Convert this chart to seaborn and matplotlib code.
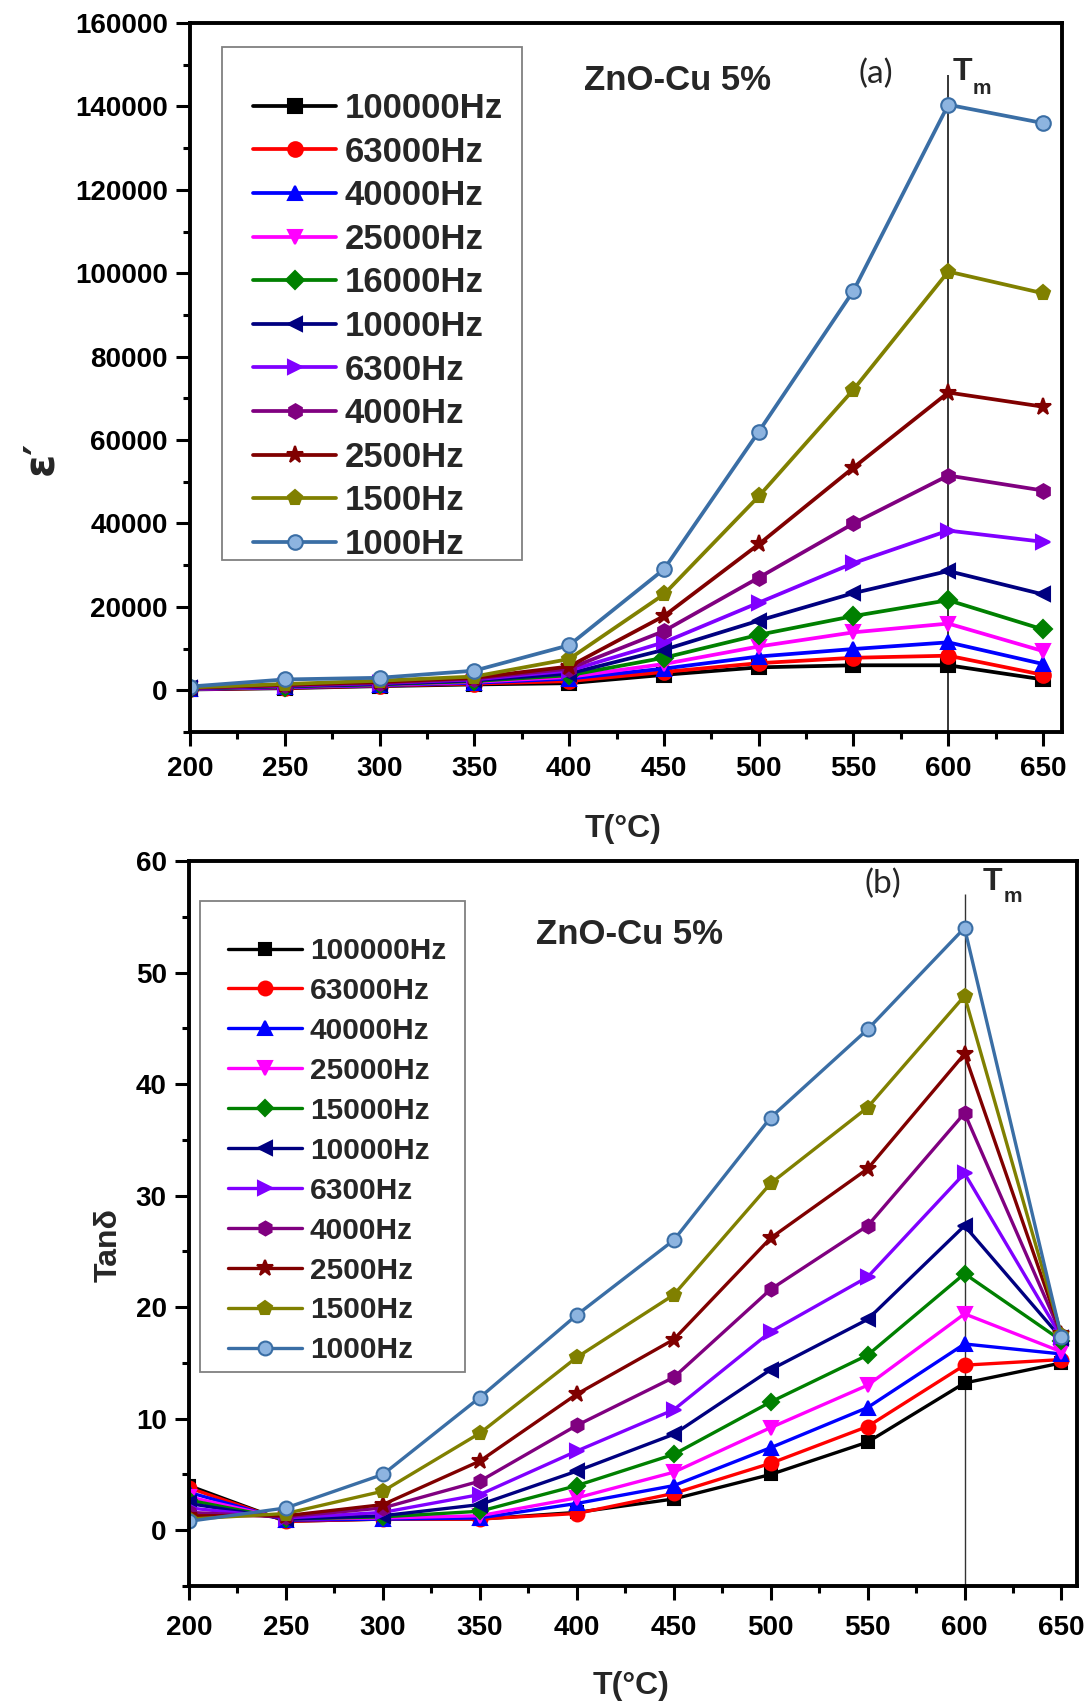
import numpy as np
import matplotlib
matplotlib.use("Agg")
import matplotlib.pyplot as plt
import seaborn as sns
from matplotlib.ticker import MultipleLocator
from matplotlib.patches import Rectangle
from matplotlib.font_manager import FontProperties

# ---------------- data ----------------
temps = [200, 250, 300, 350, 400, 450, 500, 550, 600, 650]

freq_labels_a = ["100000Hz", "63000Hz", "40000Hz", "25000Hz", "16000Hz", "10000Hz",
                 "6300Hz", "4000Hz", "2500Hz", "1500Hz", "1000Hz"]
freq_labels_b = ["100000Hz", "63000Hz", "40000Hz", "25000Hz", "15000Hz", "10000Hz",
                 "6300Hz", "4000Hz", "2500Hz", "1500Hz", "1000Hz"]

eps_100000 = [200, 500, 1000, 1400, 1700, 3700, 5500, 6000, 6000, 2600]
eps_63000 = [250, 600, 1100, 1600, 2200, 4400, 6500, 7800, 8300, 3700]
eps_40000 = [300, 700, 1200, 1800, 2800, 5200, 8100, 9900, 11500, 6300]
eps_25000 = [350, 800, 1300, 2000, 3200, 6300, 10500, 13900, 16000, 9400]
eps_16000 = [400, 900, 1400, 2200, 3600, 7800, 13300, 17800, 21600, 14600]
eps_10000 = [450, 1000, 1500, 2400, 4000, 9700, 16700, 23300, 28600, 23000]
eps_6300 = [500, 1100, 1700, 2600, 4700, 11500, 21000, 30500, 38300, 35600]
eps_4000 = [550, 1200, 1800, 2800, 5200, 14200, 27000, 40000, 51500, 47900]
eps_2500 = [600, 1300, 2000, 3000, 5700, 17800, 35000, 53400, 71400, 68000]
eps_1500 = [700, 1500, 2300, 3300, 7500, 23000, 46500, 72100, 100400, 95200]
eps_1000 = [900, 2600, 3000, 4700, 10800, 29000, 62000, 95800, 140400, 136000]

tan_100000 = [4.0, 0.8, 1.0, 1.0, 1.6, 2.8, 5.0, 7.9, 13.2, 15.0]
tan_63000 = [3.8, 0.8, 1.0, 1.0, 1.5, 3.3, 6.0, 9.3, 14.8, 15.3]
tan_40000 = [3.4, 0.9, 1.0, 1.1, 2.4, 4.0, 7.4, 11.0, 16.7, 15.8]
tan_25000 = [3.0, 1.0, 1.1, 1.3, 2.9, 5.2, 9.2, 13.0, 19.4, 16.0]
tan_15000 = [2.7, 1.0, 1.2, 1.7, 4.0, 6.8, 11.5, 15.7, 23.0, 17.0]
tan_10000 = [2.4, 1.0, 1.3, 2.3, 5.3, 8.6, 14.4, 18.9, 27.3, 17.2]
tan_6300 = [2.0, 1.1, 1.6, 3.2, 7.1, 10.8, 17.8, 22.7, 32.0, 17.3]
tan_4000 = [1.6, 1.2, 2.0, 4.4, 9.4, 13.7, 21.6, 27.3, 37.4, 17.5]
tan_2500 = [1.3, 1.3, 2.3, 6.2, 12.2, 17.1, 26.2, 32.4, 42.7, 17.6]
tan_1500 = [1.0, 1.5, 3.5, 8.7, 15.5, 21.1, 31.1, 37.9, 47.9, 17.5]
tan_1000 = [0.8, 2.0, 5.0, 11.9, 19.3, 26.0, 37.0, 44.9, 54.0, 17.3]

series_a = [eps_100000, eps_63000, eps_40000, eps_25000, eps_16000, eps_10000,
            eps_6300, eps_4000, eps_2500, eps_1500, eps_1000]
series_b = [tan_100000, tan_63000, tan_40000, tan_25000, tan_15000, tan_10000,
            tan_6300, tan_4000, tan_2500, tan_1500, tan_1000]

T_M = 600
TM_TOP_A = 147500
TM_TOP_B = 57

# ---------------- style ----------------
colors = ["#000000", "#FF0000", "#0000FF", "#FF00FF", "#008000", "#000080",
          "#8000FF", "#800080", "#800000", "#808000", "#3A6EA5"]
markers = ["s", "o", "^", "v", "D", "<", ">", "h", "*", "p", "o"]
msize = [9.5, 10.5, 10.5, 10.5, 9.0, 10.5, 10.5, 10.5, 12.5, 11.0, 10.5]

sns.set_theme(style="ticks")
plt.rcParams["font.family"] = ["Liberation Sans", "DejaVu Sans"]
plt.rcParams["font.weight"] = "bold"
plt.rcParams["axes.labelweight"] = "bold"

W, H = 1084, 1704
fig = plt.figure(figsize=(W / 100, H / 100), dpi=100)
fig.patch.set_facecolor("white")


def fx(x):
    return x / W


def fy(y):
    return 1 - y / H


ax1 = fig.add_axes([fx(190), fy(732), (1062 - 190) / W, (732 - 23) / H])
ax2 = fig.add_axes([fx(189), fy(1586), (1077 - 189) / W, (1586 - 861) / H])


def draw_panel(ax, series, lw, scale):
    for vals, c, m, ms in zip(series, colors, markers, msize):
        face = "#8DB4E0" if c == "#3A6EA5" else c
        sns.lineplot(x=temps, y=vals, ax=ax, color=c, marker=m, markersize=ms * scale,
                     linewidth=lw, markeredgecolor=c, markerfacecolor=face,
                     markeredgewidth=1.5, sort=False, errorbar=None)
    return ax.get_lines()[:len(series)]


def style_axes(ax, xlim, ylim, ymaj, ymin, xpad):
    ax.set_xlim(*xlim)
    ax.set_ylim(*ylim)
    ax.set_xticks(np.arange(200, 651, 50))
    ax.xaxis.set_minor_locator(MultipleLocator(25))
    ax.yaxis.set_major_locator(MultipleLocator(ymaj))
    ax.yaxis.set_minor_locator(MultipleLocator(ymin))
    for s in ax.spines.values():
        s.set_linewidth(2.8)
        s.set_color("black")
    ax.tick_params(which="both", direction="out", top=False, right=False,
                   width=2.2, colors="black")
    ax.tick_params(which="major", length=10, labelsize=20)
    ax.tick_params(which="minor", length=5)
    ax.tick_params(axis="x", which="major", pad=xpad)
    ax.tick_params(axis="y", which="major", pad=6)
    for lab in ax.get_xticklabels() + ax.get_yticklabels():
        lab.set_fontweight("bold")
    ax.set_facecolor("white")


# ---------- panel (a) ----------
h1 = draw_panel(ax1, series_a, 2.7, 1.0)
style_axes(ax1, (200, 660), (-10000, 160000), 20000, 10000, 7.5)
ax1.vlines(T_M, -10000, TM_TOP_A, color="black", lw=1.1, zorder=1)

leg1 = ax1.legend(h1, freq_labels_a, loc="upper left",
                  bbox_to_anchor=(fx(253), fy(92)), bbox_transform=fig.transFigure,
                  frameon=False, borderpad=0, borderaxespad=0, handlelength=2.4,
                  handletextpad=0.23, labelspacing=0.305, numpoints=1,
                  prop=FontProperties(family="Liberation Sans", weight="bold", size=25))
leg1.set_zorder(6)
ax1.add_patch(Rectangle((fx(222), fy(560)), (522 - 222) / W, (560 - 47) / H,
                        transform=fig.transFigure, fill=False, edgecolor="#808080",
                        lw=1.3, zorder=5, clip_on=False))

ax1.set_xlabel("T(°C)", fontsize=23, fontweight="bold")
ax1.xaxis.set_label_coords(fx(623), fy(814), transform=fig.transFigure)
ax1.set_ylabel("ε′", fontsize=30, fontweight="bold", family=["DejaVu Sans"])
ax1.yaxis.label.set_verticalalignment("center")
ax1.yaxis.set_label_coords(fx(40), fy(458), transform=fig.transFigure)

fig.text(fx(677), fy(90), "ZnO-Cu 5%", fontsize=25, fontweight="bold",
         ha="center", va="baseline")
fig.text(fx(876), fy(74), "(a)", fontsize=24, fontweight="normal",
         family=["Lato", "DejaVu Sans"], ha="center", va="center")
fig.text(fx(953), fy(80), "T", fontsize=23, fontweight="bold", ha="left", va="baseline")
fig.text(fx(973), fy(94), "m", fontsize=15, fontweight="bold", ha="left", va="baseline")

# ---------- panel (b) ----------
h2 = draw_panel(ax2, series_b, 2.4, 0.95)
style_axes(ax2, (200, 658), (-5, 60), 10, 5, 11)
ax2.vlines(T_M, -5, TM_TOP_B, color="#333333", lw=1.0, zorder=1)

leg2 = ax2.legend(h2, freq_labels_b, loc="upper left",
                  bbox_to_anchor=(fx(228), fy(937)), bbox_transform=fig.transFigure,
                  frameon=False, borderpad=0, borderaxespad=0, handlelength=2.47,
                  handletextpad=0.27, labelspacing=0.40, numpoints=1,
                  prop=FontProperties(family="Liberation Sans", weight="bold", size=21.5))
leg2.set_zorder(6)
ax2.add_patch(Rectangle((fx(200), fy(1372)), (465 - 200) / W, (1372 - 901) / H,
                        transform=fig.transFigure, fill=False, edgecolor="#808080",
                        lw=1.3, zorder=5, clip_on=False))

ax2.set_xlabel("T(°C)", fontsize=23, fontweight="bold")
ax2.xaxis.set_label_coords(fx(631), fy(1671), transform=fig.transFigure)
ax2.set_ylabel("Tanδ", fontsize=23, fontweight="bold")
ax2.yaxis.label.set_verticalalignment("center")
ax2.yaxis.set_label_coords(fx(109), fy(1245), transform=fig.transFigure)

fig.text(fx(630), fy(944), "ZnO-Cu 5%", fontsize=25, fontweight="bold",
         ha="center", va="baseline")
fig.text(fx(883), fy(884), "(b)", fontsize=24, fontweight="normal",
         family=["Lato", "DejaVu Sans"], ha="center", va="center")
fig.text(fx(983), fy(890), "T", fontsize=23, fontweight="bold", ha="left", va="baseline")
fig.text(fx(1004), fy(902), "m", fontsize=15, fontweight="bold", ha="left", va="baseline")

fig.savefig("out.png", dpi=100, facecolor="white")
